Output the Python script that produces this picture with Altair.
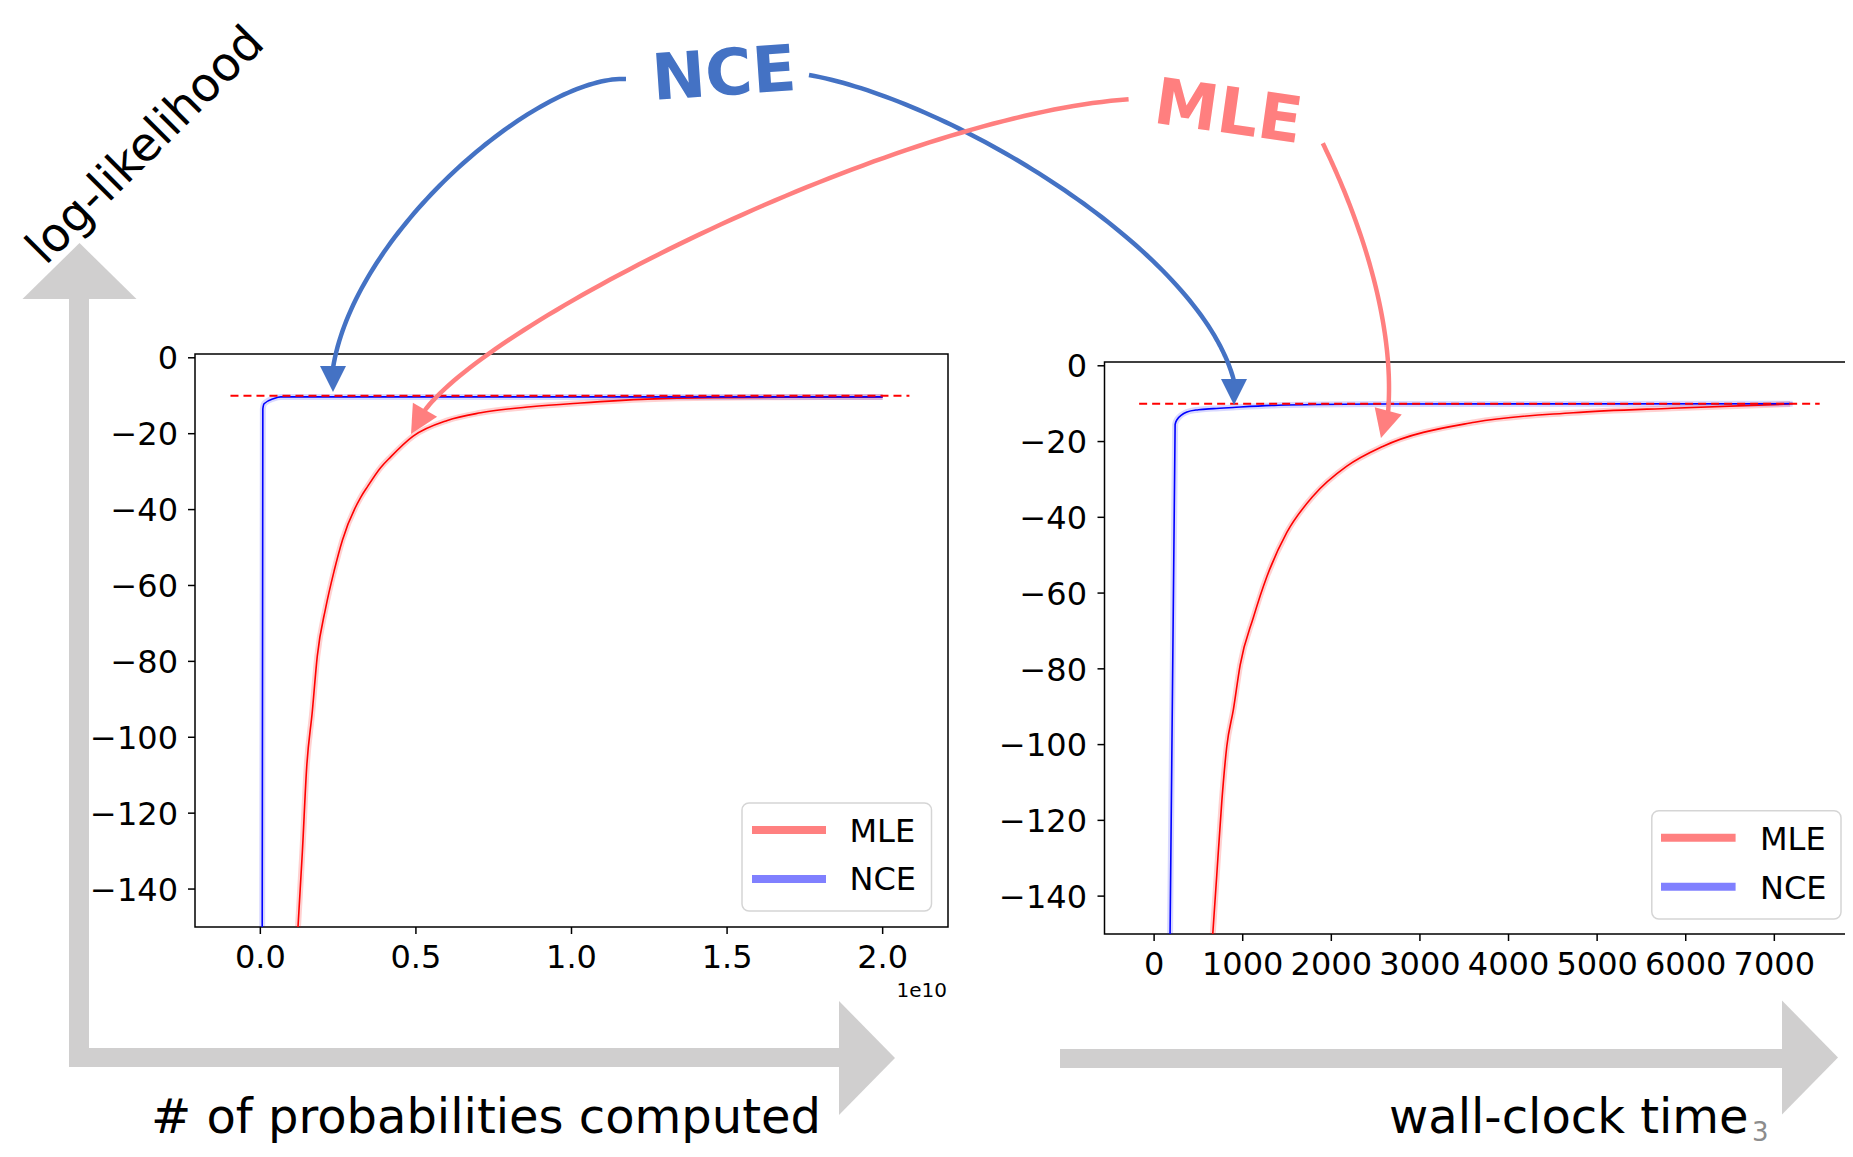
import altair as alt
import numpy as np
import pandas as pd

# ---------------- data ----------------
# Left panel: x = number of probabilities computed, in units of 1e10
LEFT_MLE_X = [0.121, 0.135, 0.149, 0.167, 0.183, 0.210, 0.237, 0.264, 0.323, 0.344,
              0.387, 0.419, 0.490, 0.601, 0.708, 0.869, 1.030, 1.244, 1.458, 1.670, 2.000]
LEFT_MLE_Y = [-150, -130.3, -107.8, -93.2, -78.6, -65.9, -56.2, -48.0, -36.7, -34.0,
              -28.9, -26.1, -20.7, -16.5, -14.5, -12.9, -11.9, -10.9, -10.5, -10.4, -10.3]
LEFT_NCE_X = [0.006, 0.008, 0.012, 0.044, 0.066, 2.000]
LEFT_NCE_Y = [-150, -13.5, -12.1, -10.7, -10.3, -10.3]
LEFT_REF_X = [-0.096, 2.086]

# Right panel: x = wall-clock time
RIGHT_MLE_X = [662, 707, 764, 820, 895, 971, 1121, 1272, 1498, 1798, 2175, 2580,
               3617, 4730, 5843, 7178]
RIGHT_MLE_Y = [-150, -134.5, -115, -100.5, -90.7, -79, -66.4, -55.7, -44, -34.3,
               -26.5, -21.3, -14.9, -12.4, -11.2, -10.1]
RIGHT_NCE_X = [180, 237, 256, 370, 500, 670, 890, 1400, 1836, 2504, 7207]
RIGHT_NCE_Y = [-150, -15.5, -14.3, -12.2, -11.6, -11.3, -11.0, -10.4, -10.2, -10.1, -10.0]
RIGHT_REF_X = [-169, 7512]
REF_Y = -10.0

LEFT_X_TICKS = [0.0, 0.5, 1.0, 1.5, 2.0]
LEFT_X_LABELS = ["0.0", "0.5", "1.0", "1.5", "2.0"]
RIGHT_X_TICKS = [0, 1000, 2000, 3000, 4000, 5000, 6000, 7000]
RIGHT_X_LABELS = ["0", "1000", "2000", "3000", "4000", "5000", "6000", "7000"]
Y_TICKS = [0, -20, -40, -60, -80, -100, -120, -140]
Y_LABELS = ["0", "\u221220", "\u221240", "\u221260", "\u221280", "\u2212100",
            "\u2212120", "\u2212140"]
SERIES = ["MLE", "NCE"]

# ---------------- layout / style ----------------
W, H = 1837, 1141
OFF = 8
FONT = "DejaVu Sans"
GRAY = "#d0cfcf"
BLUE_ANN = "#4472C4"
PINK_ANN = "#FF7F7F"


def c(v):
    return v - OFF


sx1 = alt.Scale(domain=[-0.21, 2.21], range=[c(195), c(948)], nice=False, zero=False)
sy1 = alt.Scale(domain=[-150, 1], range=[c(927), c(354)], nice=False, zero=False)
sx2 = alt.Scale(domain=[-560, 7950], range=[c(1104.5), c(1858.5)], nice=False, zero=False)
sy2 = alt.Scale(domain=[-150, 1], range=[c(934), c(362)], nice=False, zero=False)


def panel(mle_x, mle_y, nce_x, nce_y, ref_x, sx, sy, xdom, xticks, xlabels,
          bottom_px, left_px, xlabel_base, ylabel_right):
    mle = pd.DataFrame({"x": mle_x, "y": mle_y})
    nce = pd.DataFrame({"x": nce_x, "y": nce_y})
    ref = pd.DataFrame({"x": ref_x, "y": [REF_Y] * len(ref_x)})
    xt = pd.DataFrame({"v": xticks, "lab": xlabels})
    yt = pd.DataFrame({"v": Y_TICKS, "lab": Y_LABELS})

    X = alt.X("x:Q", scale=sx, axis=None)
    Y = alt.Y("y:Q", scale=sy, axis=None)

    frame = alt.Chart(pd.DataFrame({"a": [0]})).mark_rect(
        fillOpacity=0, stroke="black", strokeWidth=1.5
    ).encode(
        x=alt.XDatum(xdom[0], type="quantitative", scale=sx, axis=None),
        x2=alt.X2Datum(xdom[1]),
        y=alt.YDatum(-150, type="quantitative", scale=sy, axis=None),
        y2=alt.Y2Datum(1),
    )
    band_mle = alt.Chart(mle).mark_line(color="#ff0000", strokeWidth=6, opacity=0.18,
                                        interpolate="monotone").encode(x=X, y=Y)
    band_nce = alt.Chart(nce).mark_line(color="#0000ff", strokeWidth=6, opacity=0.15,
                                        interpolate="monotone").encode(x=X, y=Y)
    line_mle = alt.Chart(mle).mark_line(color="#ff0000", strokeWidth=1.6,
                                        interpolate="monotone").encode(x=X, y=Y)
    line_nce = alt.Chart(nce).mark_line(color="#0000ff", strokeWidth=1.6,
                                        interpolate="monotone").encode(x=X, y=Y)
    dashed = alt.Chart(ref).mark_line(color="#ff0000", strokeWidth=2,
                                      strokeDash=[8, 5]).encode(x=X, y=Y)

    # axis ticks and labels, positioned through the panel scales
    xtick = alt.Chart(xt).mark_rule(color="black", strokeWidth=1.5).encode(
        x=alt.X("v:Q", scale=sx, axis=None),
        y=alt.value(c(bottom_px)), y2=alt.value(c(bottom_px + 7)))
    xlab = alt.Chart(xt).mark_text(font=FONT, fontSize=32, color="black", align="center",
                                   baseline="alphabetic").encode(
        x=alt.X("v:Q", scale=sx, axis=None), y=alt.value(c(xlabel_base)), text="lab:N")
    ytick = alt.Chart(yt).mark_rule(color="black", strokeWidth=1.5).encode(
        y=alt.Y("v:Q", scale=sy, axis=None),
        x=alt.value(c(left_px - 7)), x2=alt.value(c(left_px)))
    ylab = alt.Chart(yt).mark_text(font=FONT, fontSize=32, color="black", align="right",
                                   baseline="alphabetic", dy=11.7).encode(
        y=alt.Y("v:Q", scale=sy, axis=None), x=alt.value(c(ylabel_right)), text="lab:N")
    return alt.layer(frame, band_mle, band_nce, line_mle, line_nce, dashed,
                     xtick, xlab, ytick, ylab)


p1 = panel(LEFT_MLE_X, LEFT_MLE_Y, LEFT_NCE_X, LEFT_NCE_Y, LEFT_REF_X, sx1, sy1,
           [-0.21, 2.21], LEFT_X_TICKS, LEFT_X_LABELS, 927, 195, 968, 178)
p2 = panel(RIGHT_MLE_X, RIGHT_MLE_Y, RIGHT_NCE_X, RIGHT_NCE_Y, RIGHT_REF_X, sx2, sy2,
           [-560, 7950], RIGHT_X_TICKS, RIGHT_X_LABELS, 934, 1104.5, 975, 1087)

# ---------------- decorations on a pixel canvas ----------------
csx = alt.Scale(domain=[OFF, OFF + W], range=[0, W], nice=False, zero=False)
csy = alt.Scale(domain=[OFF, OFF + H], range=[0, H], nice=False, zero=False)

shafts = pd.DataFrame({
    "x0": [69, 69, 1060], "x1": [89, 839, 1782],
    "y0": [299, 1048, 1049], "y1": [1067, 1067, 1068],
})
shaft_layer = alt.Chart(shafts).mark_rect(color=GRAY).encode(
    x=alt.X("x0:Q", scale=csx, axis=None), x2="x1:Q",
    y=alt.Y("y0:Q", scale=csy, axis=None), y2="y1:Q",
)

BIG_UP = "M0,-28L57,28L-57,28Z"
BIG_RIGHT = "M-28,-57L28,0L-28,57Z"
SMALL_DOWN = "M-13,-13L13,-13L0,13Z"
MID_DOWN = "M-14,-14L14,-14L0,14Z"

heads = pd.DataFrame({
    "x": [79.5, 867, 1810, 333, 1234, 418, 1384.6],
    "y": [271, 1058, 1057.5, 379, 392, 421.9, 424.5],
    "shape": [BIG_UP, BIG_RIGHT, BIG_RIGHT, SMALL_DOWN, SMALL_DOWN, MID_DOWN, MID_DOWN],
    "angle": [0, 0, 0, 0, 0, 30, 15],
    "col": [GRAY, GRAY, GRAY, BLUE_ANN, BLUE_ANN, PINK_ANN, PINK_ANN],
})
head_layer = alt.Chart(heads).mark_point(filled=True, size=4, opacity=1, strokeWidth=0).encode(
    x=alt.X("x:Q", scale=csx, axis=None),
    y=alt.Y("y:Q", scale=csy, axis=None),
    shape=alt.Shape("shape:N", scale=None),
    angle=alt.Angle("angle:Q", scale=None),
    color=alt.Color("col:N", scale=None),
)


def bezier(p0, p1, p2, p3, n=80):
    t = np.linspace(0, 1, n)
    a, b, cc, d = (1 - t) ** 3, 3 * (1 - t) ** 2 * t, 3 * (1 - t) * t ** 2, t ** 3
    xs = a * p0[0] + b * p1[0] + cc * p2[0] + d * p3[0]
    ys = a * p0[1] + b * p1[1] + cc * p2[1] + d * p3[1]
    return xs, ys


CURVES = [
    ("nce_l", BLUE_ANN, (626, 79), (540, 75), (355, 230), (333, 368)),
    ("nce_r", BLUE_ANN, (809, 75), (950, 100), (1200, 250), (1234, 381)),
    ("mle_l", PINK_ANN, (1128.6, 99.3), (900, 115), (490, 320), (424, 411.5)),
    ("mle_r", PINK_ANN, (1322.8, 143.3), (1365, 230), (1395, 330), (1388, 413)),
]
rows = []
for cid, col, a0, a1, a2, a3 in CURVES:
    xs, ys = bezier(a0, a1, a2, a3)
    for i, (xv, yv) in enumerate(zip(xs, ys)):
        rows.append({"cid": cid, "col": col, "o": i, "x": float(xv), "y": float(yv)})
curve_df = pd.DataFrame(rows)
curve_layer = alt.Chart(curve_df).mark_line(strokeWidth=4.5, strokeCap="butt").encode(
    x=alt.X("x:Q", scale=csx, axis=None),
    y=alt.Y("y:Q", scale=csy, axis=None),
    detail="cid:N",
    order="o:Q",
    color=alt.Color("col:N", scale=None),
)


def text(label, x, y, size, color="black", angle=0, align="left", baseline="alphabetic",
         weight="normal"):
    return alt.Chart(pd.DataFrame({"t": [label]})).mark_text(
        font=FONT, fontSize=size, color=color, angle=angle, align=align,
        baseline=baseline, fontWeight=weight,
    ).encode(x=alt.value(c(x)), y=alt.value(c(y)), text="t:N")


texts = [
    text("log-likelihood", 146, 146, 47, angle=315, align="center", baseline="middle"),
    text("NCE", 724, 76, 64, color=BLUE_ANN, angle=356, align="center",
         baseline="middle", weight="bold"),
    text("MLE", 1228, 114, 64, color=PINK_ANN, angle=8, align="center",
         baseline="middle", weight="bold"),
    text("# of probabilities computed", 151, 1133, 48),
    text("wall-clock time", 1389, 1133, 48),
    text("3", 1752, 1141, 26, color="#8c8c8c"),
    text("1e10", 947, 997, 20, align="right"),
]

# legends (one per panel)
LEGENDS = [
    dict(box=(742, 931.5, 803, 911), lx=(752, 826), ly=(830, 879), tx=849.5, ty=(842, 890)),
    dict(box=(1651.8, 1841, 810.7, 919), lx=(1661, 1735.6), ly=(837.7, 886.7), tx=1760,
         ty=(850, 899)),
]
LEG_COLORS = ["#ff8080", "#8080ff"]
legend_layers = []
for lg in LEGENDS:
    x0, x1, y0, y1 = lg["box"]
    legend_layers.append(
        alt.Chart(pd.DataFrame({"a": [0]})).mark_rect(
            fill="white", fillOpacity=0.8, stroke="#d5d5d5", strokeWidth=1.5, cornerRadius=7
        ).encode(x=alt.value(c(x0)), x2=alt.value(c(x1)), y=alt.value(c(y0)), y2=alt.value(c(y1)))
    )
    for s, col, ly, ty in zip(SERIES, LEG_COLORS, lg["ly"], lg["ty"]):
        legend_layers.append(
            alt.Chart(pd.DataFrame({"a": [0]})).mark_rule(color=col, strokeWidth=8).encode(
                x=alt.value(c(lg["lx"][0])), x2=alt.value(c(lg["lx"][1])), y=alt.value(c(ly)))
        )
        legend_layers.append(text(s, lg["tx"], ty, 32))

canvas = alt.layer(shaft_layer, head_layer, curve_layer, *legend_layers, *texts)

chart = alt.layer(p1, p2, canvas).resolve_scale(
    x="independent", y="independent"
).properties(
    width=W, height=H, padding=0, autosize=alt.AutoSizeParams(type="none")
).configure_view(strokeWidth=0)

chart.save("out.html", embed_options={"renderer": "svg", "actions": False})
